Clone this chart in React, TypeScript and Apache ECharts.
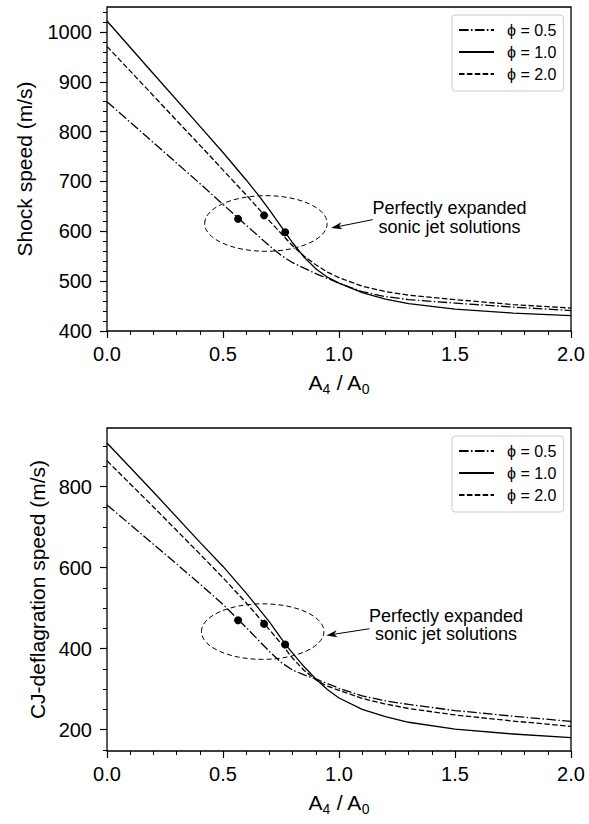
import React, { useEffect, useRef } from "react";
import * as echarts from "echarts";

const FONT = "'Liberation Sans', Arial, Helvetica, sans-serif";

// series names (legend)
const SERIES_NAMES = ["ϕ = 0.5", "ϕ = 1.0", "ϕ = 2.0"];

// tick values
const X_MAJOR = [0, 0.5, 1.0, 1.5, 2.0];
const X_MINOR = [0.1, 0.2, 0.3, 0.4, 0.6, 0.7, 0.8, 0.9, 1.1, 1.2, 1.3, 1.4, 1.6, 1.7, 1.8, 1.9];
const TOP_Y_MAJOR = [400, 500, 600, 700, 800, 900, 1000];
const TOP_Y_MINOR = [420, 440, 460, 480, 520, 540, 560, 580, 620, 640, 660, 680, 720, 740, 760, 780, 820, 840, 860, 880, 920, 940, 960, 980, 1020, 1040];
const BOT_Y_MAJOR = [200, 400, 600, 800];
const BOT_Y_MINOR = [150, 250, 300, 350, 450, 500, 550, 650, 700, 750, 850, 900];

// ---- top panel: shock speed ----
const TOP_X_05 = [0, 0.2, 0.4, 0.6, 0.7, 0.75, 0.8, 0.9, 1.0, 1.1, 1.2, 1.3, 1.5, 1.75, 2.0];
const TOP_Y_05 = [860, 778, 696, 612, 571, 552, 537, 515, 496, 479, 469, 463, 456, 448, 441];
const TOP_X_10 = [0, 0.2, 0.4, 0.5, 0.6, 0.65, 0.7, 0.75, 0.77, 0.8, 0.85, 0.9, 0.95, 1.0, 1.1, 1.2, 1.3, 1.5, 1.75, 2.0];
const TOP_Y_10 = [1022, 916, 811, 758, 703, 674, 643, 610, 597, 577, 548, 525, 508, 496, 477, 464, 455, 444, 436, 431];
const TOP_X_20 = [0, 0.2, 0.4, 0.6, 0.7, 0.8, 0.85, 0.9, 0.95, 1.0, 1.1, 1.2, 1.3, 1.5, 1.75, 2.0];
const TOP_Y_20 = [971, 872, 773, 673, 621, 571, 550, 533, 518, 507, 490, 479, 472, 463, 453, 446];
const TOP_DOTS_X = [0.565, 0.677, 0.768];
const TOP_DOTS_Y = [625, 632, 598];
const TOP_ELLIPSE = [0.685, 615.7, 0.264, 55.8]; // cx, cy, rx, ry (data units)
const TOP_ARROW = [1.145, 623.4, 0.966, 606.7]; // tail x, tail y, tip x, tip y
const TOP_NOTE = [1.476, 628];

// ---- bottom panel: CJ-deflagration speed ----
const BOT_X_05 = [0, 0.2, 0.4, 0.5, 0.6, 0.7, 0.75, 0.8, 0.85, 0.9, 1.0, 1.1, 1.2, 1.3, 1.5, 1.75, 2.0];
const BOT_Y_05 = [755, 658, 560, 509, 452, 393, 366, 347, 335, 325, 302, 283, 271, 262, 247, 233, 220];
const BOT_X_10 = [0, 0.2, 0.4, 0.5, 0.6, 0.7, 0.77, 0.8, 0.85, 0.9, 0.95, 1.0, 1.1, 1.2, 1.3, 1.5, 1.75, 2.0];
const BOT_Y_10 = [908, 787, 663, 603, 537, 466, 410, 389, 355, 325, 299, 278, 250, 232, 218, 201, 189, 180];
const BOT_X_20 = [0, 0.2, 0.4, 0.5, 0.6, 0.68, 0.75, 0.8, 0.85, 0.9, 0.95, 1.0, 1.1, 1.2, 1.3, 1.5, 1.75, 2.0];
const BOT_Y_20 = [864, 750, 634, 575, 513, 460, 413, 376, 346, 323, 307, 297, 277, 263, 252, 236, 221, 208];
const BOT_DOTS_X = [0.565, 0.677, 0.768];
const BOT_DOTS_Y = [470, 461, 410];
const BOT_ELLIPSE = [0.671, 442, 0.264, 68.6];
const BOT_ARROW = [1.131, 449, 0.945, 432.5];
const BOT_NOTE = [1.461, 458];

const NOTE_TEXT = "Perfectly expanded\nsonic jet solutions";

const zip = (xs: number[], ys: number[]) => xs.map((x, i) => [x, ys[i]]);

const LINE_TYPES: any[] = [[9.6, 2.4, 1.5, 2.4], "solid", [5.5, 2.4]];

function buildPanel(
  gi: number,
  xs: number[][],
  ys: number[][],
  dotsX: number[],
  dotsY: number[],
  ell: number[],
  arrow: number[],
  note: number[]
) {
  const xi = gi * 2;
  const yi = gi * 2;
  const series: any[] = [];
  for (let k = 0; k < 3; k++) {
    series.push({
      type: "line",
      name: SERIES_NAMES[k],
      xAxisIndex: xi,
      yAxisIndex: yi,
      data: zip(xs[k], ys[k]),
      symbol: "none",
      showSymbol: false,
      smooth: false,
      lineStyle: { color: "#000", width: 1.3, type: LINE_TYPES[k], join: "round" },
      itemStyle: { color: "#000" },
      z: 3,
    });
  }
  series.push({
    type: "scatter",
    name: "dots" + gi,
    xAxisIndex: xi,
    yAxisIndex: yi,
    data: zip(dotsX, dotsY),
    symbol: "circle",
    symbolSize: 8,
    itemStyle: { color: "#000", opacity: 1 },
    z: 5,
  });
  series.push({
    type: "custom",
    name: "ellipse" + gi,
    xAxisIndex: xi,
    yAxisIndex: yi,
    data: [ell],
    silent: true,
    z: 4,
    renderItem: (_p: any, api: any) => {
      const c = api.coord([api.value(0), api.value(1)]);
      const s = api.size([api.value(2), api.value(3)]);
      return {
        type: "ellipse",
        shape: { cx: c[0], cy: c[1], rx: s[0], ry: s[1] },
        style: { fill: "none", stroke: "#000", lineWidth: 1, lineDash: [5, 3] },
      };
    },
  });
  series.push({
    type: "custom",
    name: "arrow" + gi,
    xAxisIndex: xi,
    yAxisIndex: yi,
    data: [arrow],
    silent: true,
    z: 4,
    renderItem: (_p: any, api: any) => {
      const a = api.coord([api.value(0), api.value(1)]);
      const b = api.coord([api.value(2), api.value(3)]);
      const dx = b[0] - a[0];
      const dy = b[1] - a[1];
      const len = Math.sqrt(dx * dx + dy * dy) || 1;
      const ux = dx / len;
      const uy = dy / len;
      const nx = -uy;
      const ny = ux;
      const hl = 11;
      const hw = 3.6;
      const base = [b[0] - ux * hl, b[1] - uy * hl];
      const notch = [b[0] - ux * (hl - 3), b[1] - uy * (hl - 3)];
      return {
        type: "group",
        children: [
          {
            type: "line",
            shape: { x1: a[0], y1: a[1], x2: notch[0], y2: notch[1] },
            style: { stroke: "#000", lineWidth: 1 },
          },
          {
            type: "polygon",
            shape: {
              points: [
                [b[0], b[1]],
                [base[0] + nx * hw, base[1] + ny * hw],
                notch,
                [base[0] - nx * hw, base[1] - ny * hw],
              ],
            },
            style: { fill: "#000" },
          },
        ],
      };
    },
  });
  series.push({
    type: "custom",
    name: "note" + gi,
    xAxisIndex: xi,
    yAxisIndex: yi,
    data: [note],
    silent: true,
    z: 4,
    renderItem: (_p: any, api: any) => {
      const c = api.coord([api.value(0), api.value(1)]);
      return {
        type: "text",
        x: c[0],
        y: c[1],
        style: {
          text: NOTE_TEXT,
          align: "center",
          verticalAlign: "middle",
          fontSize: 18,
          lineHeight: 18.5,
          fontFamily: FONT,
          fill: "#000",
        },
      };
    },
  });
  return series;
}

function xAxesFor(gi: number) {
  const common = {
    type: "value",
    gridIndex: gi,
    position: "bottom",
    min: 0,
    max: 2,
    splitLine: { show: false },
    axisLine: { show: false },
  };
  return [
    {
      ...common,
      name: "{a|A}{b|4}{a| / A}{b|0}",
      nameLocation: "middle",
      nameGap: 38,
      nameTextStyle: {
        color: "#000",
        fontFamily: FONT,
        rich: {
          a: { fontSize: 21, lineHeight: 27, fontFamily: FONT, color: "#000" },
          b: { fontSize: 14, lineHeight: 14, verticalAlign: "bottom", fontFamily: FONT, color: "#000" },
        },
      },
      axisTick: {
        show: true,
        length: 7,
        customValues: X_MAJOR,
        lineStyle: { color: "#000", width: 1.2 },
      },
      axisLabel: {
        show: true,
        customValues: X_MAJOR,
        formatter: (v: number) => v.toFixed(1),
        fontSize: 20,
        fontFamily: FONT,
        color: "#000",
        margin: 13,
      },
    },
    {
      ...common,
      axisTick: {
        show: true,
        length: 4,
        customValues: X_MINOR,
        lineStyle: { color: "#000", width: 1 },
      },
      axisLabel: { show: false },
    },
  ];
}

function yAxesFor(gi: number, min: number, max: number, major: number[], minor: number[], name: string, gap: number) {
  const common = {
    type: "value",
    gridIndex: gi,
    position: "left",
    min,
    max,
    splitLine: { show: false },
    axisLine: { show: false },
  };
  return [
    {
      ...common,
      name,
      nameLocation: "middle",
      nameGap: gap,
      nameTextStyle: { fontSize: 21, fontFamily: FONT, color: "#000" },
      axisTick: {
        show: true,
        length: 7,
        customValues: major,
        lineStyle: { color: "#000", width: 1.2 },
      },
      axisLabel: {
        show: true,
        customValues: major,
        formatter: (v: number) => String(v),
        fontSize: 20,
        fontFamily: FONT,
        color: "#000",
        margin: 15,
      },
    },
    {
      ...common,
      axisTick: {
        show: true,
        length: 4,
        customValues: minor,
        lineStyle: { color: "#000", width: 1 },
      },
      axisLabel: { show: false },
    },
  ];
}

function legendFor(top: number) {
  return {
    data: SERIES_NAMES,
    orient: "vertical",
    left: 452,
    top,
    selectedMode: false,
    itemWidth: 35,
    itemHeight: 14,
    itemGap: 6,
    padding: [7, 7, 9, 6],
    backgroundColor: "#fff",
    borderColor: "#cccccc",
    borderWidth: 1,
    borderRadius: 3,
    itemStyle: { color: "rgba(0,0,0,0)", borderWidth: 0, opacity: 0 },
    textStyle: { fontSize: 16, fontFamily: FONT, color: "#000", padding: [0, 0, 0, 8] },
  };
}

export default function App() {
  const ref = useRef<HTMLDivElement>(null);
  useEffect(() => {
    if (!ref.current) return;
    const chart = echarts.init(ref.current, undefined, { renderer: "svg" });
    const option: any = {
      animation: false,
      backgroundColor: "#fff",
      grid: [
        { left: 107, top: 7, width: 464, height: 324, show: true, borderColor: "#000", borderWidth: 1.3, backgroundColor: "transparent" },
        { left: 107, top: 428, width: 464, height: 323, show: true, borderColor: "#000", borderWidth: 1.3, backgroundColor: "transparent" },
      ],
      xAxis: [...xAxesFor(0), ...xAxesFor(1)],
      yAxis: [
        ...yAxesFor(0, 400, 1050, TOP_Y_MAJOR, TOP_Y_MINOR, "Shock speed (m/s)", 72),
        ...yAxesFor(1, 147, 945, BOT_Y_MAJOR, BOT_Y_MINOR, "CJ-deflagration speed (m/s)", 59),
      ],
      legend: [legendFor(15), legendFor(436)],
      series: [
        ...buildPanel(0, [TOP_X_05, TOP_X_10, TOP_X_20], [TOP_Y_05, TOP_Y_10, TOP_Y_20], TOP_DOTS_X, TOP_DOTS_Y, TOP_ELLIPSE, TOP_ARROW, TOP_NOTE),
        ...buildPanel(1, [BOT_X_05, BOT_X_10, BOT_X_20], [BOT_Y_05, BOT_Y_10, BOT_Y_20], BOT_DOTS_X, BOT_DOTS_Y, BOT_ELLIPSE, BOT_ARROW, BOT_NOTE),
      ],
    };
    chart.setOption(option);
    return () => chart.dispose();
  }, []);
  return (
    <div
      ref={ref}
      style={{ position: "absolute", left: 0, top: 0, width: 589, height: 824, background: "#fff" }}
    />
  );
}
